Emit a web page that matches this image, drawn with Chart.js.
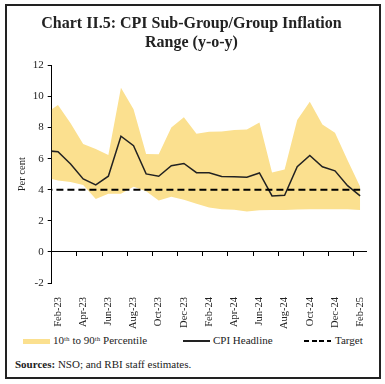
<!DOCTYPE html>
<html>
<head>
<meta charset="utf-8">
<script src="https://cdn.jsdelivr.net/npm/chart.js@4.4.1/dist/chart.umd.min.js"></script>
<style>
  body { margin: 0; background: #fff; }
  .frame { position: absolute; left: 5px; top: 4px; width: 372px; height: 371px; border: 2px solid #222; }
  .chart-wrap { position: absolute; left: 0; top: 0; width: 372px; height: 325px; }
  .legend { position: absolute; left: 0; top: 327px; width: 372px; height: 16px; font: 11px "Liberation Serif", serif; color: #222; }
  .legend span { position: absolute; top: 1px; white-space: nowrap; }
  .legend i { position: absolute; display: block; }
  .sources { position: absolute; left: 8px; top: 352px; font: 11px "Liberation Serif", serif; color: #222; }
</style>
</head>
<body>
<div class="frame">
  <div class="chart-wrap"><canvas id="rangeChart"></canvas></div>
  <div class="legend" id="legend"></div>
  <div class="sources"><b>Sources:</b> NSO; and RBI staff estimates.</div>
</div>
<script>
// Jan-23 sits just left of the axis, only its segment into Feb-23 shows
const months = ["Jan-23", "Feb-23", "Mar-23", "Apr-23", "May-23", "Jun-23", "Jul-23", "Aug-23", "Sep-23",
  "Oct-23", "Nov-23", "Dec-23", "Jan-24", "Feb-24", "Mar-24", "Apr-24", "May-24", "Jun-24", "Jul-24",
  "Aug-24", "Sep-24", "Oct-24", "Nov-24", "Dec-24", "Jan-25", "Feb-25"];
const cpiHeadline = [6.52, 6.44, 5.66, 4.70, 4.31, 4.87, 7.44, 6.83, 5.02, 4.87, 5.55, 5.69, 5.10,
  5.09, 4.85, 4.83, 4.80, 5.08, 3.60, 3.65, 5.49, 6.21, 5.48, 5.22, 4.26, 3.61];
const pct90 = [8.9, 9.45, 8.27, 6.95, 6.62, 6.23, 10.57, 9.18, 6.3, 6.29, 8.0, 8.66, 7.6,
  7.73, 7.75, 7.84, 7.87, 8.33, 5.11, 5.3, 8.48, 9.66, 8.2, 7.66, 5.9, 4.19];
const pct10 = [4.8, 4.6, 4.5, 4.3, 3.4, 3.75, 3.75, 4.2, 3.9, 3.3, 3.55, 3.35, 3.1,
  2.85, 2.75, 2.72, 2.6, 2.68, 2.7, 2.7, 2.73, 2.75, 2.75, 2.75, 2.75, 2.7];
const target = [4, 4, 4, 4, 4, 4, 4, 4, 4, 4, 4, 4, 4, 4, 4, 4, 4, 4, 4, 4, 4, 4, 4, 4, 4, 4];
const yTicks = [-2, 0, 2, 4, 6, 8, 10, 12];

const bandColor = "#fbe08f";
const ink = "#222";
const serif = "'Liberation Serif', serif";

const chart = new Chart(document.getElementById("rangeChart"), {
  type: "line",
  data: {
    labels: months,
    datasets: [
      {
        label: "Target",
        data: target,
        borderColor: "#000",
        borderWidth: 2,
        borderDash: [7, 4],
        pointRadius: 0,
        order: 0
      },
      {
        label: "CPI Headline",
        data: cpiHeadline,
        borderColor: ink,
        borderWidth: 1.5,
        pointRadius: 0,
        order: 1
      },
      {
        label: "10ᵗʰ to 90ᵗʰ Percentile",
        data: pct90,
        borderWidth: 0,
        pointRadius: 0,
        backgroundColor: bandColor,
        fill: "+1",
        order: 2
      },
      {
        label: "10th",
        data: pct10,
        borderWidth: 0,
        pointRadius: 0,
        fill: false,
        order: 3
      }
    ]
  },
  options: {
    responsive: true,
    maintainAspectRatio: false,
    animation: false,
    layout: { padding: { left: 9, right: 12, bottom: 2 } },
    plugins: {
      title: {
        display: true,
        text: ["Chart II.5: CPI Sub-Group/Group Inflation", "Range (y-o-y)"],
        color: ink,
        font: { family: serif, size: 16, weight: "bold" },
        padding: { top: 8, bottom: 13 }
      },
      tooltip: { enabled: false },
      legend: { display: false }
    },
    scales: {
      x: {
        type: "category",
        min: "Feb-23",
        offset: true,
        border: { display: false },
        grid: { display: false },
        afterFit: (axis) => { axis.height = 46; },
        ticks: {
          autoSkip: false,
          minRotation: 90,
          maxRotation: 90,
          padding: 6,
          color: ink,
          font: { family: serif, size: 10.5 },
          callback: function (value, index) {
            return index % 2 === 0 ? this.getLabelForValue(value) : "";
          }
        }
      },
      xZero: {
        type: "category",
        axis: "x",
        position: { y: 0 },
        min: "Feb-23",
        offset: true,
        border: { display: true, color: "#000", width: 1 },
        grid: {
          offset: true,
          drawOnChartArea: false,
          drawTicks: true,
          tickLength: 4,
          tickColor: (ctx) => (ctx.index % 2 === 0 ? "#000" : "rgba(0,0,0,0)")
        },
        ticks: { display: false, autoSkip: false }
      },
      y: {
        min: -2,
        max: 12,
        afterBuildTicks: (axis) => { axis.ticks = yTicks.map((v) => ({ value: v })); },
        afterFit: (axis) => { axis.width = 35.7; },
        border: { display: true, color: "#000", width: 1 },
        grid: { drawOnChartArea: false, tickLength: 4, tickColor: "#000" },
        ticks: { color: ink, padding: 4, font: { family: serif, size: 11 } },
        title: {
          display: true,
          text: "Per cent",
          color: ink,
          padding: { top: 0, bottom: 2 },
          font: { family: serif, size: 10.5 }
        }
      }
    }
  }
});

// legend built from the chart's own datasets
const legendItems = [
  { ds: 2, box: 16, text: 46, swatch: "band" },
  { ds: 1, box: 176, text: 206, swatch: "solid" },
  { ds: 0, box: 297, text: 328, swatch: "dash" }
];
const legendEl = document.getElementById("legend");
legendItems.forEach((item) => {
  const ds = chart.data.datasets[item.ds];
  const mark = document.createElement("i");
  mark.style.left = item.box + "px";
  mark.style.width = "27px";
  if (item.swatch === "band") {
    mark.style.top = "6px";
    mark.style.height = "5px";
    mark.style.background = ds.backgroundColor;
  } else if (item.swatch === "dash") {
    mark.style.top = "7px";
    mark.style.height = "2px";
    mark.style.background = "repeating-linear-gradient(to right, " + ds.borderColor + " 0 5px, transparent 5px 7.5px)";
  } else {
    mark.style.top = "7px";
    mark.style.height = "2px";
    mark.style.background = ds.borderColor;
  }
  legendEl.appendChild(mark);
  const label = document.createElement("span");
  label.style.left = item.text + "px";
  label.textContent = ds.label;
  legendEl.appendChild(label);
});
</script>
</body>
</html>
